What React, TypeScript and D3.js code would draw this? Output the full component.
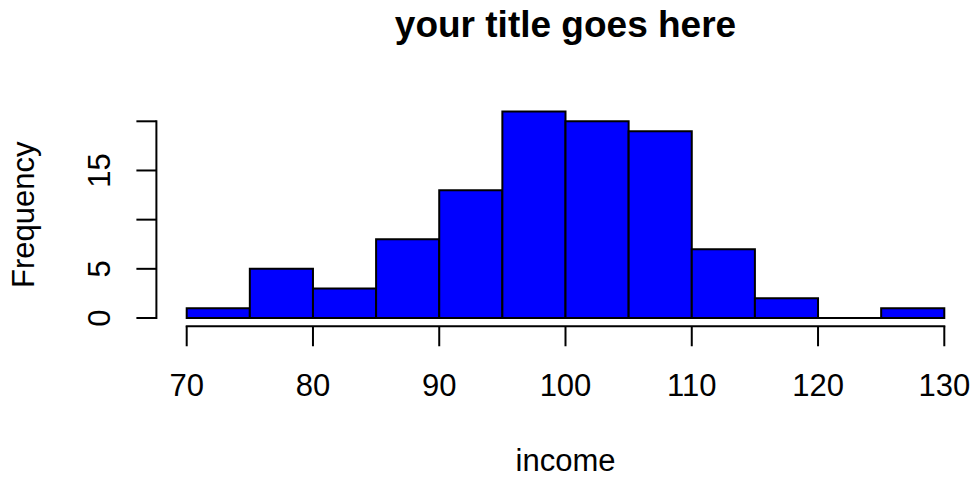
import React from "react";
import * as d3 from "d3";

const binStarts = [70, 75, 80, 85, 90, 95, 100, 105, 110, 115, 120, 125];
const binWidth = 5;
const counts = [1, 5, 3, 8, 13, 21, 20, 19, 7, 2, 0, 1];
const xTicks = [70, 80, 90, 100, 110, 120, 130];
const yTicks = [0, 5, 10, 15, 20];
const yTickLabels = ["0", "5", "", "15", ""];
const title = "your title goes here";
const xLabel = "income";
const yLabel = "Frequency";

const W = 975;
const H = 477;
const FONT = "'Liberation Sans', Arial, Helvetica, sans-serif";

export default function App() {
  const x = d3.scaleLinear().domain([70, 130]).range([186.7, 944.3]);
  const y = d3.scaleLinear().domain([0, 20]).range([318, 121.3]);
  const xMin = 70 - 0.04 * 60;
  const yMin = -0.04 * 21;
  const axisX = x(xMin);
  const axisY = y(yMin);
  const tick = 20;
  const fs = 31;
  const sw = 2;
  const cx = (x(70) + x(130)) / 2;
  const cy = (y(yMin) + y(21 * 1.04)) / 2;

  return (
    <svg
      width={W}
      height={H}
      style={{ position: "absolute", left: 0, top: 0, background: "#fff" }}
      fontFamily={FONT}
    >
      <rect x={0} y={0} width={W} height={H} fill="#fff" />
      {binStarts.map((b, i) => {
        const p = d3.path();
        p.moveTo(x(b), y(0));
        p.lineTo(x(b), y(counts[i]));
        p.lineTo(x(b + binWidth), y(counts[i]));
        p.lineTo(x(b + binWidth), y(0));
        p.closePath();
        return (
          <path
            key={b}
            d={p.toString()}
            fill="#0000FF"
            stroke="#000"
            strokeWidth={sw}
            strokeLinejoin="miter"
          />
        );
      })}
      {/* x axis */}
      <line x1={x(70)} x2={x(130)} y1={axisY} y2={axisY} stroke="#000" strokeWidth={sw} strokeLinecap="square" />
      {xTicks.map((t) => (
        <g key={t}>
          <line x1={x(t)} x2={x(t)} y1={axisY} y2={axisY + tick} stroke="#000" strokeWidth={sw} />
          <text x={x(t)} y={396} textAnchor="middle" fontSize={fs} fill="#000">
            {t}
          </text>
        </g>
      ))}
      {/* y axis */}
      <line x1={axisX} x2={axisX} y1={y(0)} y2={y(20)} stroke="#000" strokeWidth={sw} strokeLinecap="square" />
      {yTicks.map((t, i) => (
        <g key={t}>
          <line x1={axisX - tick} x2={axisX} y1={y(t)} y2={y(t)} stroke="#000" strokeWidth={sw} />
          {yTickLabels[i] && (
            <text
              transform={`translate(${110},${y(t)}) rotate(-90)`}
              textAnchor="middle"
              fontSize={fs}
              fill="#000"
            >
              {yTickLabels[i]}
            </text>
          )}
        </g>
      ))}
      <text x={cx} y={471} textAnchor="middle" fontSize={fs} fill="#000">
        {xLabel}
      </text>
      <text
        transform={`translate(${33.5},${cy}) rotate(-90)`}
        textAnchor="middle"
        fontSize={fs}
        fill="#000"
      >
        {yLabel}
      </text>
      <text x={cx} y={37} textAnchor="middle" fontSize={37} fontWeight="bold" fill="#000">
        {title}
      </text>
    </svg>
  );
}
